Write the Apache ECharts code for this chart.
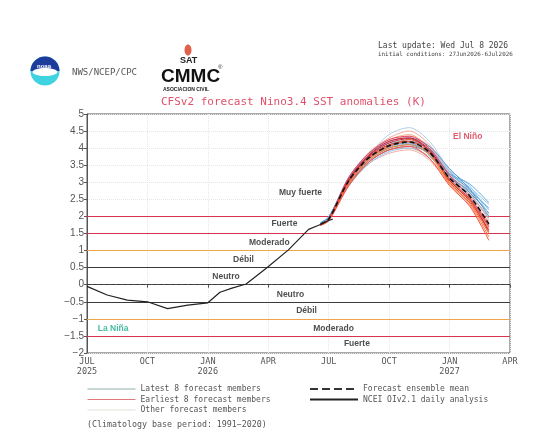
<!DOCTYPE html>
<html>
<head>
<meta charset="utf-8">
<script src="https://cdn.jsdelivr.net/npm/echarts@6/dist/echarts.min.js"></script>
<style>
  html, body { margin: 0; padding: 0; background: #fff; }
  #main { width: 551px; height: 445px; }
</style>
</head>
<body>
<div id="main"></div>
<script>
// datos: meses desde JUL 2025 (0) hasta APR 2027 (21)
var xTickLabels = ['JUL\n2025', 'OCT', 'JAN\n2026', 'APR', 'JUL', 'OCT', 'JAN\n2027', 'APR'];

// NCEI OIv2.1 analisis diario
var obsMonth = [0, 1, 2, 3, 4, 5, 6, 6.6, 7.2, 7.9, 8.9, 10, 11, 11.5, 12, 12.2];
var obsAnom  = [-0.05, -0.3, -0.45, -0.5, -0.7, -0.6, -0.53, -0.22, -0.1, 0.02, 0.48, 1.02, 1.62, 1.74, 1.88, 1.92];

// pronostico CFSv2
var fcMonth = [11.6, 12, 13, 14, 15, 16, 17, 18, 19, 19.95];
var fcMean  = [1.78, 1.92, 3.05, 3.72, 4.07, 4.18, 3.88, 3.12, 2.6, 1.78];

var latestMembers = [
  [1.80, 1.95, 3.00, 3.65, 4.00, 4.10, 3.90, 3.25, 2.80, 2.20],
  [1.82, 1.98, 3.10, 3.80, 4.15, 4.20, 3.95, 3.30, 2.85, 2.35],
  [1.78, 1.92, 2.95, 3.60, 3.95, 4.05, 3.85, 3.20, 2.70, 2.10],
  [1.80, 1.96, 3.05, 3.75, 4.10, 4.25, 4.00, 3.35, 2.90, 2.05],
  [1.79, 1.94, 3.00, 3.70, 4.05, 4.15, 3.80, 3.15, 2.75, 2.25],
  [1.81, 1.97, 3.15, 3.85, 4.20, 4.30, 4.05, 3.40, 2.80, 2.00],
  [1.80, 1.93, 2.90, 3.55, 3.90, 4.00, 3.75, 3.10, 2.65, 1.95],
  [1.82, 1.99, 3.10, 3.75, 4.10, 4.20, 3.95, 3.25, 2.95, 2.40]
];
var earliestMembers = [
  [1.75, 1.90, 3.05, 3.75, 4.10, 4.20, 3.85, 3.05, 2.45, 1.60],
  [1.76, 1.88, 3.00, 3.70, 4.05, 4.25, 3.90, 3.00, 2.40, 1.50],
  [1.74, 1.92, 3.10, 3.80, 4.20, 4.30, 3.95, 3.10, 2.50, 1.70],
  [1.75, 1.89, 2.95, 3.65, 4.00, 4.10, 3.80, 2.95, 2.35, 1.40],
  [1.77, 1.93, 3.15, 3.85, 4.25, 4.35, 4.00, 3.20, 2.55, 1.75],
  [1.74, 1.87, 2.90, 3.60, 3.95, 4.05, 3.70, 2.90, 2.30, 1.30],
  [1.76, 1.91, 3.05, 3.78, 4.15, 4.28, 3.92, 3.05, 2.50, 1.55],
  [1.75, 1.90, 3.00, 3.72, 4.08, 4.18, 3.86, 3.08, 2.48, 1.65]
];
var otherMembers = [
  [1.78, 1.92, 3.10, 3.85, 4.30, 4.50, 4.10, 3.30, 2.70, 1.90],
  [1.77, 1.90, 2.95, 3.60, 3.95, 4.00, 3.70, 3.00, 2.50, 1.85],
  [1.79, 1.94, 3.05, 3.80, 4.40, 4.60, 4.20, 3.35, 2.75, 2.10],
  [1.78, 1.91, 3.00, 3.70, 4.05, 4.15, 3.85, 3.15, 2.60, 1.80],
  [1.76, 1.89, 2.90, 3.55, 3.85, 3.95, 3.65, 2.95, 2.40, 1.60],
  [1.78, 1.93, 3.08, 3.78, 4.18, 4.35, 4.05, 3.25, 2.65, 2.00],
  [1.77, 1.92, 3.02, 3.68, 4.02, 4.12, 3.82, 3.10, 2.55, 1.70],
  [1.79, 1.95, 3.12, 3.88, 4.25, 4.40, 4.00, 3.20, 2.62, 1.95]
];

// umbrales de intensidad
var classLevels = [2, 1.5, 1, 0.5, 0, -0.5, -1, -1.5];

// etiquetas dentro del grafico
var noteText  = ['Muy fuerte', 'Fuerte', 'Moderado', 'Débil', 'Neutro', 'Neutro', 'Débil', 'Moderado', 'Fuerte', 'La Niña', 'El Niño'];
var noteMonth = [10.6, 9.8, 9.05, 7.77, 6.9, 10.1, 10.9, 12.24, 13.4, 1.3, 18.9];
var noteAnom  = [2.7, 1.78, 1.22, 0.72, 0.23, -0.28, -0.77, -1.28, -1.72, -1.3, 4.34];

var latestColors   = ['#5a9fd8', '#7cbde6', '#3f86c6', '#93c7ea', '#62a8d6', '#4a8fcc', '#86bfe4', '#56a0dc'];
var earliestColors = ['#e8303a', '#f05a28', '#d92040', '#f08030', '#e84060', '#ff4a4a', '#c82828', '#f07040'];
var otherColors    = ['#f6a08a', '#f8b070', '#a8c8e8', '#f090a8', '#f4a0a0', '#f8b8a0', '#c0d0e0', '#f2a880'];

var monoFont = '"DejaVu Sans Mono", monospace';

function pairs(xs, ys) {
  var out = [];
  for (var i = 0; i < xs.length; i++) { out.push([xs[i], ys[i]]); }
  return out;
}

function levelColor(v) {
  if (Math.abs(v) >= 1.5) return '#d8344e';
  if (Math.abs(v) === 1) return '#f0a448';
  return '#3a3a3a';
}

var series = [];
function addMembers(list, name, colors, width) {
  for (var i = 0; i < list.length; i++) {
    series.push({
      name: name,
      type: 'line',
      data: pairs(fcMonth, list[i]),
      symbol: 'none',
      smooth: 0.3,
      silent: true,
      lineStyle: { color: colors[i % colors.length], width: width },
      itemStyle: { color: colors[i % colors.length] },
      z: 3
    });
  }
}
addMembers(otherMembers, 'Other forecast members', otherColors, 0.9);
addMembers(latestMembers, 'Latest 8 forecast members', latestColors, 0.9);
addMembers(earliestMembers, 'Earliest 8 forecast members', earliestColors, 1);

series.push({
  name: 'Forecast ensemble mean',
  type: 'line',
  data: pairs(fcMonth, fcMean),
  symbol: 'none',
  smooth: 0.3,
  lineStyle: { color: '#111', width: 1.6, type: [5, 3] },
  itemStyle: { color: '#111' },
  z: 5
});

var classLines = [];
for (var k = 0; k < classLevels.length; k++) {
  classLines.push({
    yAxis: classLevels[k],
    lineStyle: {
      color: levelColor(classLevels[k]),
      width: 1.2,
      type: classLevels[k] === 0 ? [4, 2] : 'solid'
    }
  });
}

series.push({
  name: 'NCEI OIv2.1 daily analysis',
  type: 'line',
  data: pairs(obsMonth, obsAnom),
  symbol: 'none',
  lineStyle: { color: '#222', width: 1.2 },
  itemStyle: { color: '#222' },
  z: 6,
  markLine: {
    silent: true,
    symbol: ['none', 'none'],
    label: { show: false },
    z: 1,
    data: classLines
  }
});

var notes = [];
for (var n = 0; n < noteText.length; n++) {
  var c = '#222';
  if (noteText[n] === 'La Niña') c = '#17a889';
  if (noteText[n] === 'El Niño') c = '#d8344e';
  notes.push({ value: [noteMonth[n], noteAnom[n]], name: noteText[n], label: { color: c } });
}
series.push({
  type: 'scatter',
  data: notes,
  symbolSize: 0,
  silent: true,
  z: 7,
  label: {
    show: true,
    position: 'inside',
    formatter: '{b}',
    fontFamily: 'Liberation Sans, Arial, sans-serif',
    fontWeight: 'bold',
    fontSize: 8.5
  }
});

var legendBase = {
  orient: 'vertical',
  padding: 0,
  itemWidth: 48, itemHeight: 9, itemGap: 2.5,
  selectedMode: false,
  itemStyle: { opacity: 0 },
  textStyle: { fontFamily: monoFont, fontSize: 8, color: '#555' }
};

var myChart = echarts.init(document.getElementById('main'));
myChart.setOption({
  animation: false,
  backgroundColor: '#fff',
  grid: { left: 87, right: 41, top: 114, bottom: 92, show: true, borderColor: '#555', borderWidth: 1 },
  xAxis: {
    type: 'value',
    min: 0,
    max: 21,
    interval: 3,
    axisLine: { lineStyle: { color: '#555' } },
    axisTick: { length: 3, lineStyle: { color: '#555' } },
    splitLine: { show: true, lineStyle: { color: '#e6e6e6', type: 'dotted' } },
    axisLabel: {
      color: '#555',
      fontFamily: monoFont,
      fontSize: 8.5,
      lineHeight: 10,
      margin: 4,
      formatter: function (v) { return xTickLabels[v / 3]; }
    }
  },
  yAxis: {
    type: 'value',
    min: -2,
    max: 5,
    interval: 0.5,
    axisLine: { show: true, lineStyle: { color: '#555' } },
    axisTick: { show: true, length: 3, lineStyle: { color: '#555' } },
    splitLine: { show: true, lineStyle: { color: '#e6e6e6', type: 'dotted' } },
    axisLabel: {
      color: '#555',
      fontFamily: 'Liberation Sans, Arial, sans-serif',
      fontSize: 10,
      margin: 3,
      formatter: function (v) { return String(v).replace('-', '\u2212'); }
    }
  },
  legend: [
    Object.assign({}, legendBase, {
      left: 87, top: 385,
      data: [
        { name: 'Latest 8 forecast members', lineStyle: { color: '#8fb0ae', width: 1 } },
        { name: 'Earliest 8 forecast members', lineStyle: { color: '#e07a7a', width: 1 } },
        { name: 'Other forecast members', lineStyle: { color: '#dfe2d4', width: 1 } }
      ]
    }),
    Object.assign({}, legendBase, {
      left: 309, top: 385,
      data: [
        { name: 'Forecast ensemble mean', lineStyle: { color: '#333', width: 2, type: [8, 4] } },
        { name: 'NCEI OIv2.1 daily analysis', lineStyle: { color: '#222', width: 2 } }
      ]
    })
  ],
  graphic: [
    // logo NOAA
    { type: 'circle', shape: { cx: 45, cy: 71, r: 14.5 }, style: { fill: '#3fd3e2' } },
    { type: 'sector', shape: { cx: 45, cy: 71, r: 14.5, r0: 0, startAngle: Math.PI, endAngle: Math.PI * 2 }, style: { fill: '#1d3c9c' } },
    { type: 'ellipse', shape: { cx: 45, cy: 72, rx: 12.5, ry: 4 }, style: { fill: '#ffffff' } },
    { type: 'text', left: 37, top: 63, style: { text: 'noaa', fill: '#fff', font: 'bold 6px Liberation Sans, Arial' } },
    { type: 'text', left: 72, top: 68, style: { text: 'NWS/NCEP/CPC', fill: '#555', font: '9px ' + monoFont } },
    // logo SAT / CMMC
    { type: 'ellipse', shape: { cx: 188, cy: 50, rx: 3.5, ry: 5.5 }, style: { fill: '#e0604a' } },
    { type: 'text', left: 180, top: 56, style: { text: 'SAT', fill: '#222', font: 'bold 9px Liberation Sans, Arial' } },
    { type: 'text', left: 161, top: 67, style: { text: 'CMMC', fill: '#111', font: 'bold 19px Liberation Sans Narrow, Liberation Sans, Arial' } },
    { type: 'text', left: 218, top: 64, style: { text: '®', fill: '#333', font: '6px Liberation Sans, Arial' } },
    { type: 'text', left: 163, top: 87, style: { text: 'ASOCIACION CIVIL', fill: '#222', font: 'bold 5px Liberation Sans, Arial' } },
    // titulos
    { type: 'text', left: 161, top: 97, style: { text: 'CFSv2 forecast Nino3.4 SST anomalies (K)', fill: '#e0506a', font: '11px ' + monoFont } },
    { type: 'text', left: 378, top: 42, style: { text: 'Last update: Wed Jul 8 2026', fill: '#444', font: '8px ' + monoFont } },
    { type: 'text', left: 378, top: 51, style: { text: 'initial conditions: 27Jun2026-6Jul2026', fill: '#444', font: '5.9px ' + monoFont } },
    { type: 'text', left: 87, top: 421, style: { text: '(Climatology base period: 1991\u22122020)', fill: '#555', font: '8.3px ' + monoFont } }
  ],
  series: series
});
</script>
</body>
</html>
